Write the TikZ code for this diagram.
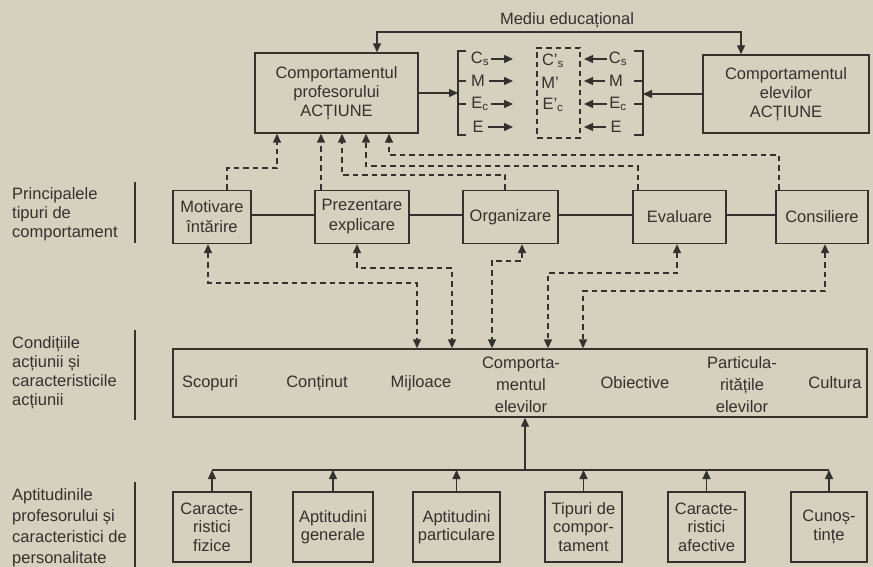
\documentclass[tikz,border=0pt]{standalone}
\usepackage{fontspec}
\setmainfont{Liberation Sans}
\usetikzlibrary{arrows.meta}
\definecolor{paper}{RGB}{214,208,190}
\definecolor{ink}{RGB}{52,50,46}
\newcommand\mysub[1]{\textsubscript{#1}}
\begin{document}
\begin{tikzpicture}[x=1pt,y=-1pt,
  every node/.style={font=\fontsize{16.5}{19}\selectfont, text=ink, inner sep=0pt, align=center},
  box/.style={draw=ink, line width=1.4pt},
  ln/.style={draw=ink, line width=1.4pt},
  tip/.style={-{Triangle[length=9pt,width=8pt]}},
  arr/.style={ln, tip},
  darr/.style={ln, dash pattern=on 5.5pt off 4pt, -{Triangle[length=9pt,width=8pt]}},
  ddarr/.style={ln, dash pattern=on 5.5pt off 4pt, {Triangle[length=9pt,width=8pt]}-{Triangle[length=9pt,width=8pt]}},
  lab/.style={anchor=west, align=left},
]
\fill[paper] (0,0) rectangle (873,567);
\useasboundingbox (0,0) rectangle (873,567);

% ---------- top row ----------
\node (medtxt) at (567,20) {Mediu educațional};
\node[box, minimum width=163pt, minimum height=80pt] (prof) at (336.5,93)
  {Comportamentul\\profesorului\\ACȚIUNE};
\node[box, minimum width=166pt, minimum height=78pt] (elev) at (786,94)
  {Comportamentul\\elevilor\\ACȚIUNE};
\draw[ln, {Triangle[length=9pt,width=8pt]}-{Triangle[length=9pt,width=8pt]}]
  (prof.north -| 377,0) -- (377,32) -- (741,32) -- (elev.north -| 741,0);

% brackets
\draw[ln] (466,51) -- (458,51) -- (458,135) -- (466,135);
\draw[ln] (458,81) -- (466,81);
\draw[ln] (458,104) -- (466,104);
\draw[ln] (634,51) -- (643,51) -- (643,135) -- (634,135);
\draw[ln] (643,81) -- (634,81);
\draw[ln] (643,104) -- (634,104);
\coordinate (lbr) at (458,93);
\coordinate (rbr) at (643,94);
\draw[arr] (prof.east |- lbr) -- (lbr);
\draw[arr] (elev.west |- rbr) -- (rbr);

% dashed box
\node[draw=ink, line width=1.4pt, dash pattern=on 5.5pt off 4pt, minimum width=43pt, minimum height=90pt] (dbox) at (558.5,93) {};
\node (ps1) at (553,61) {C'\mysub{s}};
\node (ps2) at (550,83) {M'};
\node (ps3) at (553,105) {E'\mysub{c}};

% left labels
\node (ls1) at (480,59) {C\mysub{s}};
\node (ls2) at (478,81) {M};
\node (ls3) at (480,104) {E\mysub{c}};
\node (ls4) at (478,127) {E};
% right labels
\node (rs1) at (618,59) {C\mysub{s}};
\node (rs2) at (616,81) {M};
\node (rs3) at (618,104) {E\mysub{c}};
\node (rs4) at (616,127) {E};

\coordinate (la1) at (513,59);
\coordinate (la2) at (513,81);
\coordinate (la3) at (513,104);
\coordinate (la4) at (513,127);
\coordinate (ra1) at (584,59);
\coordinate (ra2) at (584,81);
\coordinate (ra3) at (584,104);
\coordinate (ra4) at (584,127);
\draw[arr] ([xshift=2pt]ls1.east) -- (la1);
\draw[arr] ([xshift=4pt]ls2.east) -- (la2);
\draw[arr] ([xshift=2pt]ls3.east) -- (la3);
\draw[arr] ([xshift=4pt]ls4.east) -- (la4);
\draw[arr] ([xshift=-2pt]rs1.west) -- (ra1);
\draw[arr] ([xshift=-4pt]rs2.west) -- (ra2);
\draw[arr] ([xshift=-2pt]rs3.west) -- (ra3);
\draw[arr] ([xshift=-4pt]rs4.west) -- (ra4);

% ---------- row 2 ----------
\node[lab] (lab1) at (12,214) {Principalele\\tipuri de\\comportament};
\draw[ln] (135,182) -- (135,243);
\begin{scope}[every node/.append style={font=\fontsize{16.5}{20}\selectfont}]
\node[box, minimum width=78pt, minimum height=53pt] (mot) at (212,217) {Motivare\\întărire};
\node[box, minimum width=94pt, minimum height=53pt] (prez) at (362,217) {Prezentare\\explicare};
\node[box, minimum width=95pt, minimum height=53pt] (org) at (510.5,217) {Organizare};
\node[box, minimum width=93pt, minimum height=53pt] (evl) at (679.5,217) {Evaluare};
\node[box, minimum width=92pt, minimum height=53pt] (cons) at (822,217) {Consiliere};
\end{scope}
\coordinate (hl) at (0,215);
\draw[ln] (mot.east |- hl) -- (prez.west |- hl);
\draw[ln] (prez.east |- hl) -- (org.west |- hl);
\draw[ln] (org.east |- hl) -- (evl.west |- hl);
\draw[ln] (evl.east |- hl) -- (cons.west |- hl);

% row 2 -> top
\draw[darr] (mot.north -| 227,0) |- (277,168) -- (prof.south -| 277,0);
\draw[darr] (prez.north -| 321,0) -- (prof.south -| 321,0);
\draw[darr] (org.north -| 505,0) |- (342,175) -- (prof.south -| 342,0);
\draw[darr] (evl.north -| 638,0) |- (366,166) -- (prof.south -| 366,0);
\draw[darr] (cons.north -| 779,0) |- (389,155) -- (prof.south -| 389,0);

% ---------- row 3 ----------
\node[lab] (lab2) at (12,373) {Condițiile\\acțiunii și\\caracteristicile\\acțiunii};
\draw[ln] (135,330) -- (135,420);
\node[box, minimum width=694pt, minimum height=68pt] (cond) at (520,383) {};
\node (t1) at (210,383) {Scopuri};
\node (t2) at (317,383) {Conținut};
\node (t3) at (421,383) {Mijloace};
\node[font=\fontsize{16.5}{22}\selectfont] (t4) at (521,385) {Comporta-\\mentul\\elevilor};
\node (t5) at (635,383) {Obiective};
\node[font=\fontsize{16.5}{22}\selectfont] (t6) at (742,385) {Particula-\\ritățile\\elevilor};
\node (t7) at (835,383) {Cultura};

% row 2 <-> row 3
\draw[ddarr] (mot.south -| 208,0) |- (417,283) -- (cond.north -| 417,0);
\draw[ddarr] (prez.south -| 357,0) |- (452,268) -- (cond.north -| 452,0);
\draw[ddarr] (org.south -| 522,0) |- (492,261) -- (cond.north -| 492,0);
\draw[ddarr] (evl.south -| 677,0) |- (548,273) -- (cond.north -| 548,0);
\draw[ddarr] (cons.south -| 825,0) |- (583,291) -- (cond.north -| 583,0);

% ---------- row 4 ----------
\node[lab, font=\fontsize{16.5}{21}\selectfont] (lab3) at (12,528) {Aptitudinile\\profesorului și\\caracteristici de\\personalitate};
\draw[ln] (135,482) -- (135,567);
\begin{scope}[every node/.append style={font=\fontsize{16.5}{18.5}\selectfont}]
\node[box, minimum width=78pt, minimum height=70pt] (fiz) at (212,527) {Caracte-\\ristici\\fizice};
\node[box, minimum width=80pt, minimum height=70pt] (gen) at (333,527) {Aptitudini\\generale};
\node[box, minimum width=87pt, minimum height=70pt] (part) at (456.5,527) {Aptitudini\\particulare};
\node[box, minimum width=77pt, minimum height=70pt] (tipc) at (583.5,527) {Tipuri de\\compor-\\tament};
\node[box, minimum width=77pt, minimum height=70pt] (afec) at (706.5,527) {Caracte-\\ristici\\afective};
\node[box, minimum width=76pt, minimum height=70pt] (cun) at (829,527) {Cunoș-\\tințe};
\end{scope}
\coordinate (hub) at (525,470);
\draw[arr] (hub) -- (cond.south -| hub);
\draw[ln] (fiz.north |- hub) -- (cun.north |- hub);
\foreach \n in {fiz,gen,part,tipc,afec,cun}
  \draw[arr] (\n.north) -- (\n.north |- hub);
\end{tikzpicture}
\end{document}
